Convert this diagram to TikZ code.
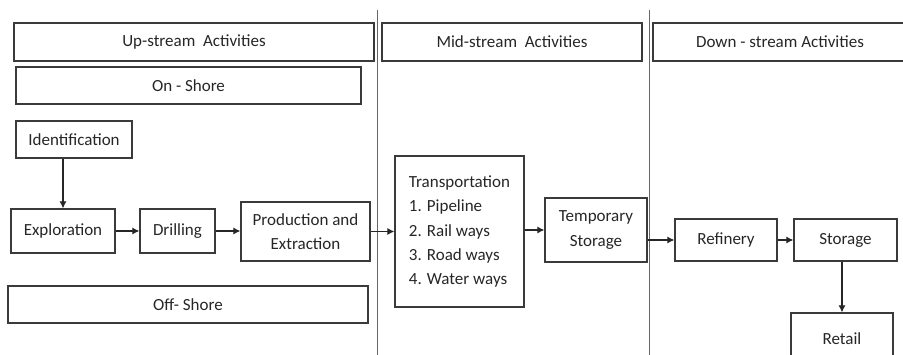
\documentclass[tikz,border=0pt]{standalone}
\usepackage{fontspec}
\setmainfont{Carlito}
\usetikzlibrary{arrows.meta}

\definecolor{boxline}{HTML}{3A3A3A}
\definecolor{boxtext}{HTML}{262626}

\tikzset{
  stage/.style={draw=boxline, line width=1.2pt, text=boxtext, inner sep=2pt,
    font=\fontsize{17}{24.3}\selectfont},
  flow/.style={draw=black!85, line width=1.1pt, -{Latex[length=7pt,width=7pt]}},
  divider/.style={draw=black!60, line width=0.9pt}
}

\begin{document}
\begin{tikzpicture}[x=1pt,y=-1pt]
\useasboundingbox (0,0) rectangle (903,355);
\clip (0,0) rectangle (903,355);

% column dividers
\draw[divider] (377,10) -- (377,355);
\draw[divider] (649,10) -- (649,355);

% headers
\node[stage, minimum width=360, minimum height=38] (up) at (194,42) {Up-stream\ \ Activities};
\node[stage, minimum width=260, minimum height=38] (mid) at (512,42) {Mid-stream\ \ Activities};
\node[stage, minimum width=254, minimum height=38] (down) at (780,42) {Down - stream Activities};

% up-stream
\node[stage, minimum width=345, minimum height=37] (onshore) at (188.5,85.5) {On - Shore};
\node[stage, minimum width=116, minimum height=37] (ident) at (74,139.5) {Identification};
\node[stage, minimum width=104, minimum height=44] (explore) at (63,231) {Exploration};
\node[stage, minimum width=75, minimum height=44] (drill) at (177.5,231) {Drilling};
\node[stage, minimum width=129, minimum height=59, align=center] (prod) at (305.5,231.5) {Production and\\Extraction};
\node[stage, minimum width=360, minimum height=37] (offshore) at (188,304.5) {Off- Shore};

% mid-stream
\node[stage, minimum width=129, minimum height=151, align=left] (transport) at (459.5,231.5)
  {Transportation\\1. Pipeline\\2. Rail ways\\3. Road ways\\4. Water ways};
\node[stage, minimum width=102, minimum height=64, align=center] (tempstore) at (596,230) {Temporary\\Storage};

% down-stream
\node[stage, minimum width=102, minimum height=42] (refinery) at (726,240) {Refinery};
\node[stage, minimum width=103, minimum height=42] (storage) at (845.5,240) {Storage};
\node[stage, minimum width=102, minimum height=52] (retail) at (842,339) {Retail};

% connectors
\draw[flow] (ident.south -| explore.north) -- (explore.north);
\draw[flow] (explore) -- (drill);
\draw[flow] (drill) -- (drill -| prod.west);
\draw[flow] (prod.east) -- (prod.east -| transport.west);
\draw[flow] (transport.east |- tempstore) -- (tempstore.west);
\draw[flow] (tempstore.east |- refinery) -- (refinery.west);
\draw[flow] (refinery) -- (storage);
\draw[flow] (storage.south -| retail.north) -- (retail.north);
\end{tikzpicture}
\end{document}
